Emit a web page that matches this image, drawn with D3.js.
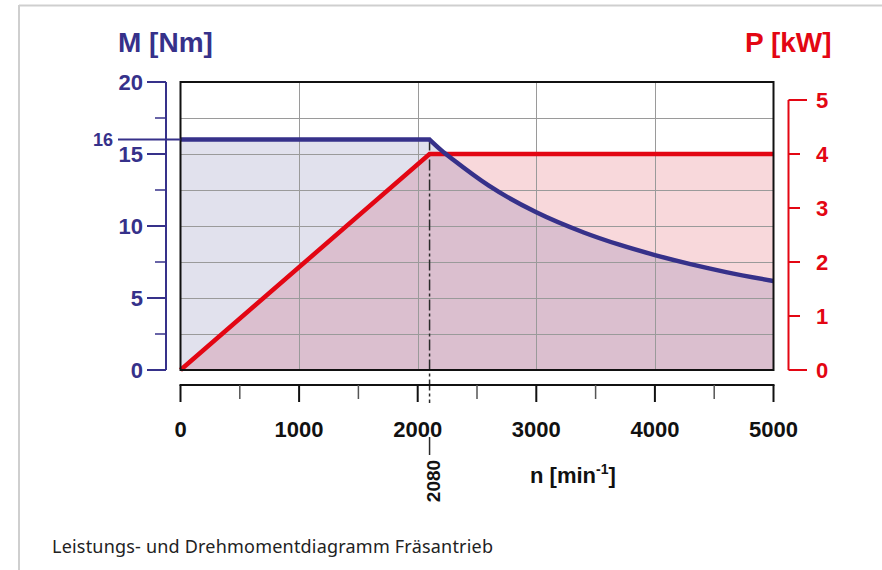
<!DOCTYPE html>
<html>
<head>
<meta charset="utf-8">
<script src="https://cdn.jsdelivr.net/npm/d3@7"></script>
<style>
  html, body { margin: 0; padding: 0; background: #fff; }
  svg { display: block; }
  text { font-family: "Liberation Sans", Arial, sans-serif; font-weight: bold; }
</style>
</head>
<body>
<script>
// ---- data ----
const speedTicks = [0, 1000, 2000, 3000, 4000, 5000];
const speedMinorTicks = [500, 1500, 2500, 3500, 4500];
const torqueTicks = [0, 5, 10, 15, 20];
const torqueMinorTicks = [2.5, 7.5, 12.5, 17.5];
const powerTicks = [0, 1, 2, 3, 4, 5];
const speed = [0, 2100, 2200, 2300, 2600, 3000, 3400, 3700, 4000, 4300, 4600, 5000];
const torque = [16, 16, 15.25, 14.6, 12.8, 10.95, 9.55, 8.7, 7.98, 7.35, 6.8, 6.18];
const powerSpeed = [0, 2100, 5000];
const power = [0, 4, 4];
const cornerSpeed = 2100;
const cornerLabel = "2080";
const ratedTorque = 16;
const ratedTorqueLabel = "16";
const caption = "Leistungs- und Drehmomentdiagramm Fräsantrieb";

const W = 882, H = 570;
const NAVY = "#36318a", RED = "#e30613";
const svg = d3.select("body").append("svg").attr("width", W).attr("height", H);

// outer grey border (top + left)
svg.append("line").attr("x1", 19).attr("x2", W).attr("y1", 5.5).attr("y2", 5.5)
  .attr("stroke", "#cfcfcf").attr("stroke-width", 2);
svg.append("line").attr("x1", 19).attr("x2", 19).attr("y1", 5).attr("y2", H)
  .attr("stroke", "#cfcfcf").attr("stroke-width", 2);

const x = d3.scaleLinear().domain([0, 5000]).range([180.5, 773.5]);
const yT = d3.scaleLinear().domain([0, 20]).range([370, 82]);
const yP = d3.scaleLinear().domain([0, 5]).range([370, 100]);

const tPts = speed.map((s, i) => [x(s), yT(torque[i])]);
const pPts = powerSpeed.map((s, i) => [x(s), yP(power[i])]);

// torque path: flat linear part + smooth descending part
const flatStr = d3.line()(tPts.slice(0, 2));
const curveStr = d3.line().curve(d3.curveMonotoneX)(tPts.slice(1));
const torqueLineStr = flatStr + curveStr.replace(/^M/, "L");
const torqueAreaStr = "M" + x(0) + "," + yT(0) + torqueLineStr.replace(/^M/, "L") +
  "L" + x(5000) + "," + yT(0) + "Z";
const powerArea = d3.area().x(d => d[0]).y0(yP(0)).y1(d => d[1]);
const powerAreaStr = powerArea(pPts);

const defs = svg.append("defs");
defs.append("clipPath").attr("id", "pclip").append("path").attr("d", powerAreaStr);

// fills
svg.append("path").attr("d", torqueAreaStr).attr("fill", "#e1e1ed");
svg.append("path").attr("d", powerAreaStr).attr("fill", "#f8d8db");
svg.append("path").attr("d", torqueAreaStr).attr("fill", "#dbbfcf").attr("clip-path", "url(#pclip)");

// grid
const gridT = [2.5, 5, 7.5, 10, 12.5, 15, 17.5];
svg.append("g").selectAll("line").data(gridT).join("line")
  .attr("x1", x(0)).attr("x2", x(5000)).attr("y1", d => Math.round(yT(d)) + 0.5).attr("y2", d => Math.round(yT(d)) + 0.5)
  .attr("stroke", "#9a9a9a").attr("stroke-width", 1);
svg.append("g").selectAll("line").data(speedTicks.slice(1, -1)).join("line")
  .attr("y1", yT(20)).attr("y2", yT(0)).attr("x1", d => Math.round(x(d)) + 0.5).attr("x2", d => Math.round(x(d)) + 0.5)
  .attr("stroke", "#9a9a9a").attr("stroke-width", 1);

// corner reference line (dash-dot)
svg.append("line").attr("x1", x(cornerSpeed)).attr("x2", x(cornerSpeed))
  .attr("y1", yT(ratedTorque)).attr("y2", 403)
  .attr("stroke", "#2a2a2a").attr("stroke-width", 1.5).attr("stroke-dasharray", "11,3,3,3");
svg.append("line").attr("x1", x(cornerSpeed)).attr("x2", x(cornerSpeed))
  .attr("y1", 437).attr("y2", 455).attr("stroke", "#2a2a2a").attr("stroke-width", 1.5);

// curves
svg.append("path").attr("d", d3.line()(pPts)).attr("fill", "none")
  .attr("stroke", RED).attr("stroke-width", 4.5);
svg.append("path").attr("d", torqueLineStr).attr("fill", "none")
  .attr("stroke", NAVY).attr("stroke-width", 4.5);

// frame
svg.append("rect").attr("x", x(0)).attr("y", yT(20)).attr("width", x(5000) - x(0)).attr("height", yT(0) - yT(20))
  .attr("fill", "none").attr("stroke", "#111").attr("stroke-width", 2);

// left axis (torque)
const axL = 166;
svg.append("line").attr("x1", axL).attr("x2", axL).attr("y1", yT(20)).attr("y2", yT(0))
  .attr("stroke", NAVY).attr("stroke-width", 2);
svg.append("g").selectAll("line").data(torqueTicks).join("line")
  .attr("x1", 147).attr("x2", axL).attr("y1", d => yT(d)).attr("y2", d => yT(d))
  .attr("stroke", NAVY).attr("stroke-width", 2);
svg.append("g").selectAll("line").data(torqueMinorTicks).join("line")
  .attr("x1", 155).attr("x2", axL).attr("y1", d => yT(d)).attr("y2", d => yT(d))
  .attr("stroke", NAVY).attr("stroke-width", 1.5);
svg.append("g").selectAll("text").data(torqueTicks).join("text")
  .attr("x", 143).attr("y", d => yT(d)).attr("dy", "0.36em").attr("text-anchor", "end")
  .attr("font-size", 22).attr("fill", NAVY).text(d => d);
// rated torque marker
svg.append("line").attr("x1", 118).attr("x2", x(0)).attr("y1", yT(ratedTorque)).attr("y2", yT(ratedTorque))
  .attr("stroke", NAVY).attr("stroke-width", 2);
svg.append("text").attr("x", 113).attr("y", yT(ratedTorque)).attr("dy", "0.36em").attr("text-anchor", "end")
  .attr("font-size", 18).attr("fill", NAVY).text(ratedTorqueLabel);
svg.append("text").attr("x", 118).attr("y", 52).attr("font-size", 28).attr("fill", NAVY).text("M [Nm]");

// right axis (power)
const axR = 788.5;
svg.append("line").attr("x1", axR).attr("x2", axR).attr("y1", yP(5)).attr("y2", yP(0))
  .attr("stroke", RED).attr("stroke-width", 2);
svg.append("g").selectAll("line").data(powerTicks).join("line")
  .attr("x1", axR).attr("x2", d => (d === 0 || d === 5) ? 807 : 800)
  .attr("y1", d => yP(d)).attr("y2", d => yP(d))
  .attr("stroke", RED).attr("stroke-width", 2);
svg.append("g").selectAll("text").data(powerTicks).join("text")
  .attr("x", 816).attr("y", d => yP(d)).attr("dy", "0.36em").attr("text-anchor", "start")
  .attr("font-size", 22).attr("fill", RED).text(d => d);
svg.append("text").attr("x", 745).attr("y", 52).attr("font-size", 28).attr("fill", RED).text("P [kW]");

// bottom axis (speed)
const axB = 385;
svg.append("line").attr("x1", x(0) - 1).attr("x2", x(5000) + 1).attr("y1", axB).attr("y2", axB)
  .attr("stroke", "#111").attr("stroke-width", 2);
svg.append("g").selectAll("line").data(speedTicks).join("line")
  .attr("x1", d => x(d)).attr("x2", d => x(d)).attr("y1", axB).attr("y2", 402)
  .attr("stroke", "#111").attr("stroke-width", 2);
svg.append("g").selectAll("line").data(speedMinorTicks).join("line")
  .attr("x1", d => x(d)).attr("x2", d => x(d)).attr("y1", axB).attr("y2", 399)
  .attr("stroke", "#555").attr("stroke-width", 1.5);
svg.append("g").selectAll("text").data(speedTicks).join("text")
  .attr("x", d => x(d)).attr("y", 437).attr("text-anchor", "middle")
  .attr("font-size", 22).attr("fill", "#111").text(d => d);
const nt = svg.append("text").attr("x", 530).attr("y", 483).attr("font-size", 22).attr("fill", "#111");
nt.append("tspan").text("n [min");
nt.append("tspan").attr("font-size", 14).attr("dy", -9).text("-1");
nt.append("tspan").attr("dy", 9).text("]");
svg.append("text").attr("transform", "translate(440,481) rotate(-90)").attr("text-anchor", "middle")
  .attr("font-size", 19).attr("fill", "#111").text(cornerLabel);

// caption
svg.append("text").attr("x", 52).attr("y", 553)
  .style("font-family", "'Noto Sans', sans-serif").style("font-weight", "normal")
  .attr("font-size", 18).attr("textLength", 441).attr("lengthAdjust", "spacing")
  .attr("fill", "#222").text(caption);
</script>
</body>
</html>
